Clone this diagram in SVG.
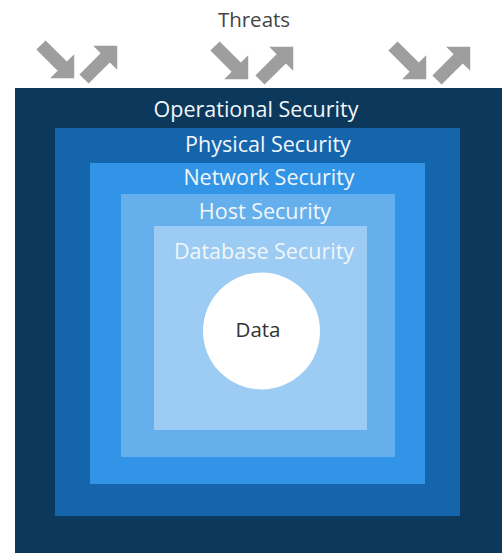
<svg xmlns="http://www.w3.org/2000/svg" width="502" height="553" viewBox="0 0 502 553">
<defs>
<style>
.lbl{font-family:"Open Sans","Liberation Sans",sans-serif;font-size:21.5px;fill:#f2f6fa;text-anchor:middle}
.dark{font-family:"Open Sans","Liberation Sans",sans-serif;font-size:20.5px;fill:#444;text-anchor:middle}
.arrow{fill:#9e9e9e}
</style>
<path id="arr" d="M0,-6.5 H30 V-17 L47,0 L30,17 V6.5 H0 Z"/>
</defs>
<rect width="502" height="553" fill="#fff"/>
<g id="threats">
<text class="dark" x="254" y="27">Threats</text>
</g>
<g id="connectors" class="arrow">
<use href="#arr" transform="translate(41,45) rotate(45)"/>
<use href="#arr" transform="translate(84,79) rotate(-45)"/>
<use href="#arr" transform="translate(215,46) rotate(45)"/>
<use href="#arr" transform="translate(260,80) rotate(-45)"/>
<use href="#arr" transform="translate(393,46) rotate(45)"/>
<use href="#arr" transform="translate(437,80) rotate(-45)"/>
</g>
<g id="operational">
<rect x="15" y="88" width="487" height="465" fill="#0c385c"/>
<text class="lbl" x="256" y="117">Operational Security</text>
</g>
<g id="physical">
<rect x="55" y="128" width="405" height="388" fill="#1565ad"/>
<text class="lbl" x="268" y="152">Physical Security</text>
</g>
<g id="network">
<rect x="90" y="163" width="335" height="321" fill="#3194e6"/>
<text class="lbl" x="269" y="185">Network Security</text>
</g>
<g id="host">
<rect x="121" y="194" width="274" height="263" fill="#65afec"/>
<text class="lbl" x="265" y="219">Host Security</text>
</g>
<g id="database">
<rect x="154" y="226" width="213" height="204" fill="#9ccbf3"/>
<text class="lbl" x="264" y="259">Database Security</text>
</g>
<g id="data">
<circle cx="261.5" cy="331" r="58.5" fill="#fff"/>
<text class="dark" x="258" y="337" style="fill:#333">Data</text>
</g>
</svg>
